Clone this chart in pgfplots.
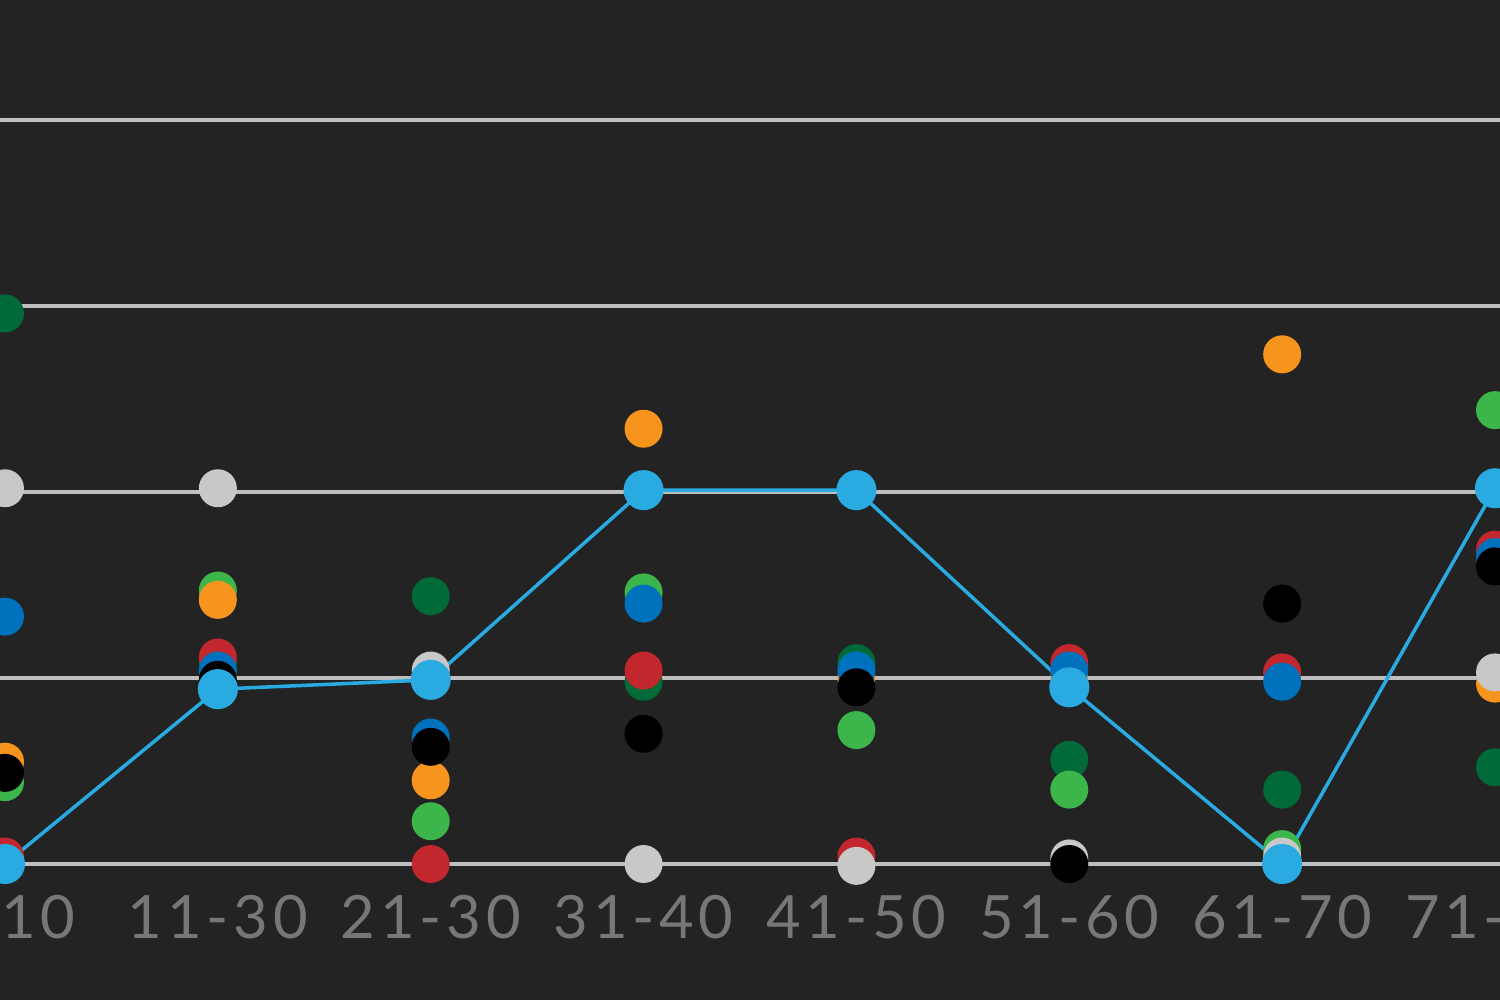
\documentclass[border=0pt]{standalone}
\usepackage{pgfplots}
\pgfplotsset{compat=1.18}
\usepackage{fontspec}
\setmainfont[LetterSpace=8]{Lato}
\definecolor{bg}{HTML}{232323}
\definecolor{dkgreen}{HTML}{006B38}
\definecolor{cgreen}{HTML}{3CB54A}
\definecolor{corange}{HTML}{F7941D}
\definecolor{cred}{HTML}{C1272D}
\definecolor{cblue}{HTML}{0071BC}
\definecolor{cgray}{HTML}{C8C8C8}
\definecolor{csky}{HTML}{29ABE2}
\definecolor{grid}{HTML}{555555}
\definecolor{lab}{HTML}{777777}
\begin{document}
\begin{tikzpicture}
\begin{axis}[scale only axis, width=15cm, height=10cm, at={(0,0)}, anchor=south west,
 xmin=-0.0234, xmax=7.0234, ymin=-0.731, ymax=4.645,
 axis line style={draw=none}, xtick=\empty, ytick={0,1,2,3,4}, yticklabels={}, ytick style={draw=none}, ymajorgrids,
 grid style={grid, line width=1pt},
 axis background/.style={fill=bg},
 every axis plot/.append style={only marks, mark=*, mark size=5.2pt, mark options={draw=none}},
 clip=true]
\addplot[dkgreen] coordinates {(0,2.96)(1,1.08)(2,1.44)(3,0.98)(4,1.08)(5,0.56)(6,0.40)(7,0.52)};
\addplot[cgreen] coordinates {(0,0.44)(1,1.47)(2,0.23)(3,1.46)(4,0.72)(5,0.40)(6,0.08)(7,2.44)};
\addplot[cred] coordinates {(0,0.04)(1,1.11)(2,0)(3,1.04)(4,0.04)(5,1.08)(6,1.03)(7,1.69)};
\addplot[corange] coordinates {(0,0.55)(1,1.42)(2,0.45)(3,2.34)(4,1.0)(5,1.0)(6,2.74)(7,0.97)};
\addplot[cblue] coordinates {(0,1.33)(1,1.04)(2,0.68)(3,1.40)(4,1.04)(5,1.04)(6,0.98)(7,1.65)};
\addplot[cgray] coordinates {(0,2.02)(1,2.02)(2,1.04)(3,0)(4,-0.01)(5,0.03)(6,0.04)(7,1.03)};
\addplot[black] coordinates {(0,0.49)(1,0.99)(2,0.63)(3,0.70)(4,0.95)(5,0)(6,1.40)(7,1.60)};
\addplot[csky, sharp plot, line width=1pt, mark=*] coordinates {(0,0)(1,0.94)(2,0.99)(3,2.01)(4,2.01)(5,0.95)(6,0)(7,2.02)};
\foreach \i/\t in {0/1-10,1/11-30,2/21-30,3/31-40,4/41-50,5/51-60,6/61-70,7/71-80}{
 \edef\temp{\noexpand\node[text=lab, font=\noexpand\fontsize{17}{20}\noexpand\selectfont] at (axis cs:\i,-0.285) {\t};}\temp}
\end{axis}
\pgfresetboundingbox
\useasboundingbox (0,0) rectangle (15cm,10cm);
\end{tikzpicture}
\end{document}
